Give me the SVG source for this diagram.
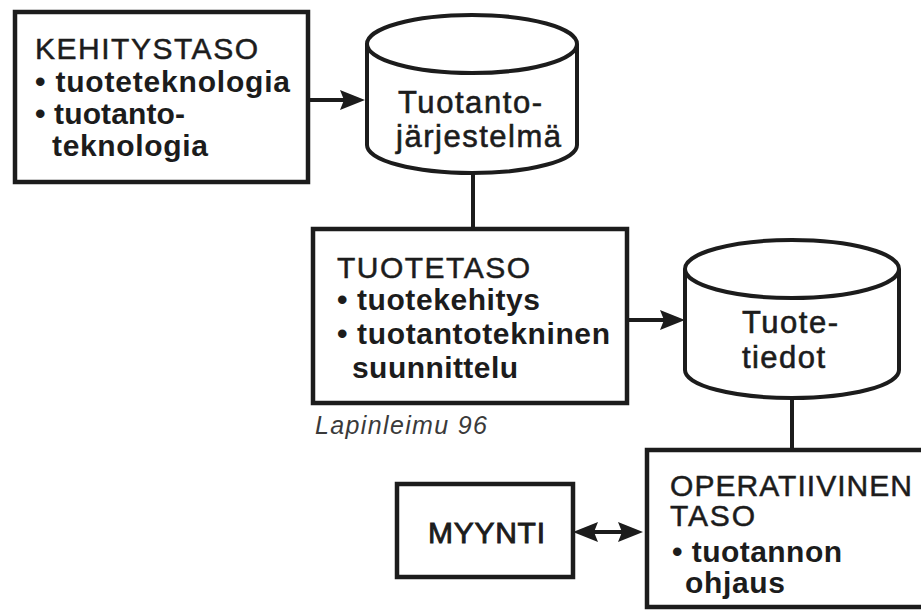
<svg xmlns="http://www.w3.org/2000/svg" width="921" height="613" viewBox="0 0 921 613">
  <style>
    .bg { fill: #ffffff; }
    .box { fill: #ffffff; stroke: #1c1c1c; stroke-width: 4.5; }
    .cyl { fill: #ffffff; stroke: #1c1c1c; stroke-width: 4; }
    .wire { fill: none; stroke: #1c1c1c; stroke-width: 4; }
    .head { fill: #1c1c1c; }
    text { font-family: "Liberation Sans", Arial, sans-serif; fill: #1c1c1c; }
    .title { font-size: 30px; stroke: #1c1c1c; stroke-width: 0.5; }
    .item { font-size: 30px; font-weight: bold; }
    .store { font-size: 31px; stroke: #1c1c1c; stroke-width: 0.6; }
    .note { font-size: 25px; font-style: italic; fill: #3a3a3a; }
  </style>
  <defs>
    <marker id="arrow" viewBox="0 0 25 20" markerWidth="25" markerHeight="20" refX="10" refY="10" markerUnits="userSpaceOnUse" orient="auto-start-reverse">
      <path class="head" d="M0,0 L25,10 L0,20 L4,10 z"/>
    </marker>
  </defs>

  <rect class="bg" x="0" y="0" width="921" height="613"/>

  <!-- connectors -->
  <g id="connectors">
    <line class="wire" x1="308" y1="100" x2="350" y2="100" marker-end="url(#arrow)"/>
    <line class="wire" x1="473" y1="172" x2="473" y2="229"/>
    <line class="wire" x1="627" y1="320" x2="670" y2="320" marker-end="url(#arrow)"/>
    <line class="wire" x1="792" y1="397" x2="792" y2="450"/>
    <line class="wire" x1="588" y1="532" x2="628" y2="532" marker-start="url(#arrow)" marker-end="url(#arrow)"/>
  </g>

  <!-- development level -->
  <g id="kehitystaso">
    <rect class="box" x="15" y="12" width="293" height="170"/>
    <text class="title" x="35" y="59" textLength="223" lengthAdjust="spacing">KEHITYSTASO</text>
    <text class="item" x="35" y="92" textLength="255" lengthAdjust="spacing">• tuoteteknologia</text>
    <text class="item" x="35" y="124" textLength="150" lengthAdjust="spacing">• tuotanto-</text>
    <text class="item" x="52" y="156" textLength="156" lengthAdjust="spacing">teknologia</text>
  </g>

  <!-- production system store -->
  <g id="tuotantojarjestelma">
    <path class="cyl" d="M367,44 L367,145 A105,28 0 0 0 577,145 L577,44"/>
    <ellipse class="cyl" cx="472" cy="44" rx="105" ry="29"/>
    <text class="store" x="398" y="113" textLength="144" lengthAdjust="spacing">Tuotanto-</text>
    <text class="store" x="396" y="147" textLength="165" lengthAdjust="spacing">järjestelmä</text>
  </g>

  <!-- product level -->
  <g id="tuotetaso">
    <rect class="box" x="313" y="229" width="314" height="174"/>
    <text class="title" x="337" y="278" textLength="193" lengthAdjust="spacing">TUOTETASO</text>
    <text class="item" x="337" y="310" textLength="203" lengthAdjust="spacing">• tuotekehitys</text>
    <text class="item" x="337" y="344" textLength="273" lengthAdjust="spacing">• tuotantotekninen</text>
    <text class="item" x="352" y="378" textLength="166" lengthAdjust="spacing">suunnittelu</text>
  </g>

  <text id="lahde" class="note" x="315" y="434" textLength="172" lengthAdjust="spacing">Lapinleimu 96</text>

  <!-- product data store -->
  <g id="tuotetiedot">
    <path class="cyl" d="M685,269 L685,370 A107,28 0 0 0 899,370 L899,269"/>
    <ellipse class="cyl" cx="792" cy="269" rx="107" ry="29"/>
    <text class="store" x="742" y="333" textLength="96" lengthAdjust="spacing">Tuote-</text>
    <text class="store" x="742" y="368" textLength="83" lengthAdjust="spacing">tiedot</text>
  </g>

  <!-- sales -->
  <g id="myynti">
    <rect class="box" x="397" y="484" width="176" height="93"/>
    <text class="title" x="428" y="543" textLength="117" lengthAdjust="spacing" style="stroke-width:0.9">MYYNTI</text>
  </g>

  <!-- operative level -->
  <g id="operatiivinen">
    <rect class="box" x="647" y="450" width="290" height="157"/>
    <text class="title" x="670" y="496" textLength="242" lengthAdjust="spacing">OPERATIIVINEN</text>
    <text class="title" x="670" y="526" textLength="85" lengthAdjust="spacing">TASO</text>
    <text class="item" x="672" y="562" textLength="170" lengthAdjust="spacing">• tuotannon</text>
    <text class="item" x="685" y="593" textLength="100" lengthAdjust="spacing">ohjaus</text>
  </g>
</svg>
